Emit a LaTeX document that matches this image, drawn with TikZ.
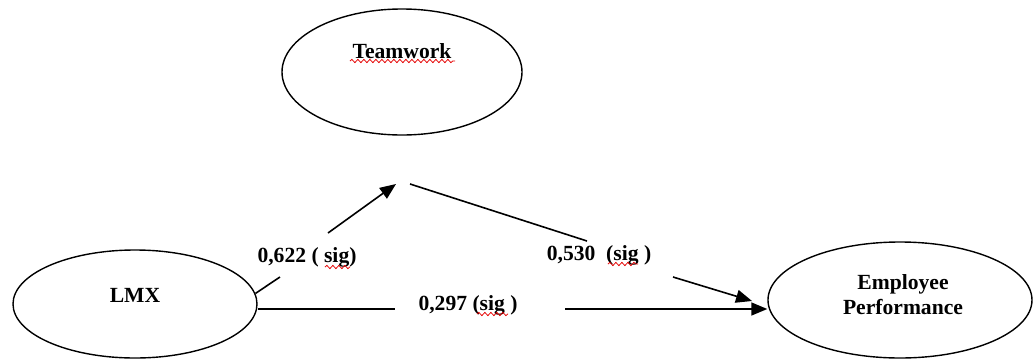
\documentclass[tikz,border=0pt]{standalone}
\usepackage{fontspec}
\setmainfont{Liberation Serif}
\usetikzlibrary{shapes.geometric,arrows.meta,decorations.pathmorphing}

\begin{document}
\begin{tikzpicture}[x=0.5pt,y=-0.5pt,line width=0.8pt,
  font=\fontsize{10.8}{12.5}\selectfont\bfseries]
  \tikzstyle{var}=[draw,ellipse,line width=0.7pt,inner sep=0pt]
  \tikzstyle{txt}=[inner sep=0pt,align=center]
  \tikzstyle{arr}=[-{Triangle[length=8pt,width=6.5pt]}]
  \tikzstyle{spell}=[red!90!black,line width=0.4pt,decorate,
    decoration={snake,amplitude=0.8pt,segment length=3pt}]
  \useasboundingbox (0,0) rectangle (1035,360);

  \node (tw)  [var,minimum width=120pt,minimum height=63pt] at (402,72) {};
  \node (lmx) [var,minimum width=122pt,minimum height=54pt] at (135,304) {};
  \node (ep)  [var,minimum width=132pt,minimum height=58pt] at (900,300) {};

  \node (twt) [txt] at (402,51) {Teamwork};
  \node (lmxt) [txt] at (135,295) {LMX};
  \node (ept) [txt] at (903,295) {Employee\\Performance};

  \node (l1) [txt] at (307,257) {0,622 ( sig)};
  \node (l2) [txt] at (599,255) {0,530\ \ (sig )};
  \node (l3) [txt] at (468,305) {0,297 (sig )};

  \coordinate (a1) at (280,277);
  \coordinate (a2) at (328,233);
  \coordinate (a3) at (396,184);
  \coordinate (b1) at (410,184);
  \coordinate (b2) at (587,241);
  \coordinate (b3) at (673,277);
  \coordinate (b4) at (752,301);
  \coordinate (h1) at (395,309);
  \coordinate (h2) at (565,309);

  \draw (lmx.5) -- (a1);
  \draw[arr] (a2) -- (a3);
  \draw (b1) -- (b2);
  \draw[arr] (b3) -- (b4);
  \draw (lmx.east |- h1) -- (h1);
  \draw[arr] (h2) -- (ep.west |- h2);

  % spell check marks
  \draw[spell] (350,61) -- (455,61);
  \draw[spell] (325,267) -- (350,267);
  \draw[spell] (608,264) -- (638,264);
  \draw[spell] (477,314) -- (508,314);
\end{tikzpicture}
\end{document}
